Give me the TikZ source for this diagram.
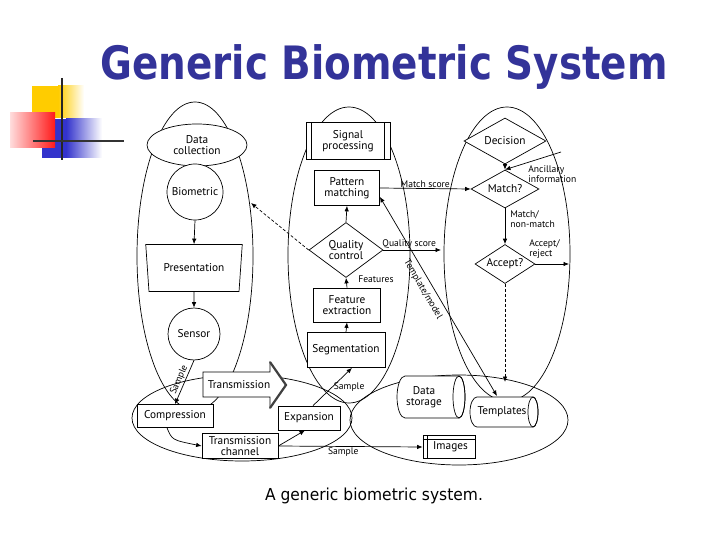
\documentclass[tikz,border=0pt]{standalone}
\usepackage{fontspec}
\setmainfont{PT Sans}
\newfontfamily\dvs{DejaVu Sans}
\usetikzlibrary{arrows.meta,shapes.geometric}
\definecolor{titleblue}{HTML}{333399}
\definecolor{logoyellow}{HTML}{FFCC00}
\definecolor{logored}{HTML}{FF1A1A}
\definecolor{logoblue}{HTML}{3333CC}
\tikzset{
  mtext/.style={font=\fontsize{11.3}{11.5}\selectfont, align=center},
  stext/.style={font=\fontsize{9.6}{10.2}\selectfont, align=left, inner sep=1pt},
  rbox/.style={mtext, draw, fill=white, rectangle, inner sep=0pt},
  dbox/.style={mtext, draw, fill=white, diamond, inner sep=0pt},
  cbox/.style={mtext, draw, fill=white, circle, inner sep=0pt},
  arr/.style={-{Latex[length=5.5pt,width=4.5pt]}},
  biarr/.style={{Latex[length=5.5pt,width=4.5pt]}-{Latex[length=5.5pt,width=4.5pt]}},
  darr/.style={arr, dash pattern=on 3pt off 2pt},
}
\begin{document}
\begin{tikzpicture}[x=1pt,y=-1pt,line width=0.7pt]
\useasboundingbox (0,0) rectangle (720,540);
% logo
\fill[logoyellow] (32,86) rectangle (58,118);
\shade[left color=logoyellow,right color=white] (58,86) rectangle (84,118);
\fill[logoblue] (42,119) rectangle (66,158);
\shade[left color=logoblue,right color=white] (66,119) rectangle (102,158);
\shade[left color=logored!15,right color=logored] (10,113) rectangle (55,148);
\draw[line width=2.6pt,black!85] (62,78) -- (62,160);
\draw[line width=2.6pt,black!80] (33,141) -- (124,141);
% title and caption
\node[anchor=base west,inner sep=0,text=titleblue,font=\dvs\bfseries\fontsize{46}{50}\selectfont] (title) at (100,80) {\scalebox{0.845}[1]{Generic Biometric System}};
\node[anchor=base,inner sep=0,font=\dvs\fontsize{16.5}{18}\selectfont] (caption) at (374,500) {\scalebox{0.94}[1]{A generic biometric system.}};
% subsystem ellipses
\draw (195,256) ellipse [x radius=58,y radius=154];
\draw (349,255) ellipse [x radius=61,y radius=148];
\draw (507,254) ellipse [x radius=63,y radius=147];
\draw (242,418) ellipse [x radius=110,y radius=43];
\draw (459,420) ellipse [x radius=109,y radius=45];
% left column
\node[mtext,draw,fill=white,ellipse,inner sep=0,minimum width=100pt,minimum height=42pt] (dc) at (197,145) {Data\\collection};
\node[cbox,minimum size=56pt] (bio) at (195,192) {Biometric};
\node[mtext,draw,fill=white,trapezium,trapezium stretches=true,shape border rotate=180,trapezium left angle=75,trapezium right angle=75,minimum width=97pt,minimum height=47pt,inner sep=0] (pres) at (194,268) {Presentation};
\node[cbox,minimum size=52pt] (sen) at (194,334) {Sensor};
\node[rbox,minimum width=76pt,minimum height=23pt] (comp) at (175,416) {Compression};
\node[rbox,minimum width=76pt,minimum height=25pt] (tc) at (240,446) {Transmission\\channel};
\node[rbox,minimum width=62pt,minimum height=24pt] (exp) at (309,418) {Expansion};
% transmission block arrow
\draw[fill=white] (203,372) -- (270,372) -- (270,362) -- (286,385) -- (270,408) -- (270,397) -- (203,397) -- cycle;
\draw[line width=2.2pt,black!75] (270,362) -- (286,385) -- (270,408);
\node[mtext] (trans) at (239,385) {Transmission};
% middle column
\node[rbox,minimum width=84pt,minimum height=37pt] (sp) at (348,141) {Signal\\processing};
\draw ([xshift=6pt]sp.north west) -- ([xshift=6pt]sp.south west) ([xshift=-6pt]sp.north east) -- ([xshift=-6pt]sp.south east);
\node[rbox,minimum width=65pt,minimum height=35pt] (pm) at (347,188) {Pattern\\matching};
\node[dbox,minimum width=74pt,minimum height=55pt,aspect=1.35] (qc) at (346,250) {Quality\\control};
\node[rbox,minimum width=67pt,minimum height=34pt] (fe) at (347,305) {Feature\\extraction};
\node[rbox,minimum width=78pt,minimum height=35pt] (seg) at (346,350) {Segmentation};
% right column
\node[dbox,minimum width=82pt,minimum height=46pt,aspect=1.8] (dec) at (505,141) {Decision};
\node[dbox,minimum width=68pt,minimum height=38pt,aspect=1.8] (mt) at (505,189) {Match?};
\node[dbox,minimum width=60pt,minimum height=39pt,aspect=1.5] (acc) at (505,264) {Accept?};
% storage
\draw[fill=white] (405,376) -- (459,376) arc[start angle=-90,end angle=90,x radius=6,y radius=21] -- (405,418) arc[start angle=90,end angle=270,x radius=8,y radius=21] -- cycle;
\draw (459,397) ellipse [x radius=6,y radius=21];
\node[mtext] (ds) at (424,397) {Data\\storage};
\draw[fill=white] (477,397) -- (533,397) arc[start angle=-90,end angle=90,x radius=5,y radius=15] -- (477,427) arc[start angle=90,end angle=270,x radius=7,y radius=15] -- cycle;
\draw (533,412) ellipse [x radius=5,y radius=15];
\node[mtext,minimum width=68pt,minimum height=30pt,inner sep=0] (tpl) at (502,412) {Templates};
\node[rbox,minimum width=52pt,minimum height=23pt] (img) at (449,447) {\hspace*{3pt}Images};
\draw ([xshift=5pt]img.north west) -- ([xshift=5pt]img.south west) ([yshift=-4pt]img.north west) -- ([yshift=-4pt]img.north east);
% connectors left
\draw[arr] (bio.south) -- (pres.north);
\draw[arr] (pres.south) -- (sen.north);
\draw[arr] (sen.south) -- node[stext,sloped,above]{Sample} (comp.north);
\draw[arr] ([xshift=-8pt]comp.south) .. controls (172,440) .. (tc.west);
\draw[arr] (tc.east) -- ([xshift=-4pt]exp.south);
\draw[arr] (tc.east) -- node[stext,below,pos=0.45]{Sample} (img.west);
\draw[arr] ([xshift=4pt]exp.north) -- node[stext,right,pos=0.5]{Sample} ([xshift=6pt]seg.south);
% connectors middle
\draw[arr] (seg.north) -- (fe.south);
\draw[arr] (fe.north) -- (qc.south);
\node[stext,anchor=west] (featlab) at (357,279) {Features};
\draw[arr] (qc.north) -- (pm.south);
\coordinate (qsend) at (441,250);
\draw[arr] (qc.east) -- node[stext,above,pos=0.45]{Quality score} (qsend);
\coordinate (qcdash) at (251,203);
\draw[darr] (qc.west) -- (qcdash);
\draw[arr] (pm.east) -- node[stext,above,pos=0.5]{Match score} (mt.west);
\coordinate (tplend) at (497,396);
\draw[biarr] ([yshift=9pt]pm.south east) -- node[stext,sloped,below=4pt,pos=0.44]{Template/model} (tplend);
% connectors right
\draw[arr] (dec.south) -- (mt.north);
\coordinate (ancstart) at (561,152);
\draw[arr] (ancstart) -- (mt.north);
\node[stext,anchor=north west] (anclab) at (527,164) {Ancillary\\information};
\draw[arr] (mt.south) -- (acc.north);
\node[stext,anchor=west] (mnlab) at (509,219) {Match/\\non-match};
\coordinate (arend) at (569,264);
\draw[arr] (acc.east) -- (arend);
\node[stext,anchor=south west] (arlab) at (528,260) {Accept/\\reject};
\coordinate (dashend) at (505,382);
\draw[darr] (acc.south) -- (dashend);
\end{tikzpicture}
\end{document}
